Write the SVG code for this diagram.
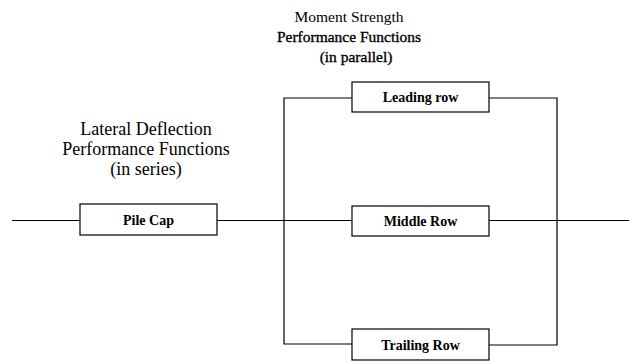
<svg xmlns="http://www.w3.org/2000/svg" width="629" height="362" viewBox="0 0 629 362" font-family="'Liberation Serif', 'Times New Roman', serif">
<style>
.box{fill:#fff;stroke:#000;stroke-width:1.2}
.wire{fill:none;stroke:#000;stroke-width:1.2}
text{font-family:'Liberation Serif','Times New Roman',serif;text-anchor:middle;fill:#000}
.lbl{font-weight:bold;font-size:14px}
.ttl{font-size:18px}
.ttl2{font-size:15.5px}
.dark{stroke:#000;stroke-width:0.35}
</style>
<rect width="629" height="362" fill="#fff"/>
<g id="titles">
<text class="ttl2" x="349" y="22">Moment Strength</text>
<text class="ttl2 dark" x="349" y="42">Performance Functions</text>
<text class="ttl2 dark" x="356" y="62">(in parallel)</text>
<text class="ttl" x="146" y="135">Lateral Deflection</text>
<text class="ttl" x="146" y="155">Performance Functions</text>
<text class="ttl" x="146" y="175">(in series)</text>
</g>
<g id="connectors">
<line class="wire" x1="12" y1="220.5" x2="80" y2="220.5"/>
<line class="wire" x1="217" y1="220.5" x2="352" y2="220.5"/>
<line class="wire" x1="489" y1="220.5" x2="629" y2="220.5"/>
<polyline class="wire" points="352,98 284,98 284,344 352,344"/>
<polyline class="wire" points="489,98 557,98 557,345 489,345"/>
</g>
<g id="pile-cap">
<rect class="box" x="80" y="204" width="137" height="31"/>
<text class="lbl" x="148.5" y="224.5">Pile Cap</text>
</g>
<g id="leading-row">
<rect class="box" x="352" y="82" width="137" height="30"/>
<text class="lbl" x="420.5" y="102">Leading row</text>
</g>
<g id="middle-row">
<rect class="box" x="352" y="206" width="137" height="30"/>
<text class="lbl" x="420.5" y="226">Middle Row</text>
</g>
<g id="trailing-row">
<rect class="box" x="352" y="329" width="137" height="31"/>
<text class="lbl" x="420.5" y="349.5">Trailing Row</text>
</g>
</svg>
